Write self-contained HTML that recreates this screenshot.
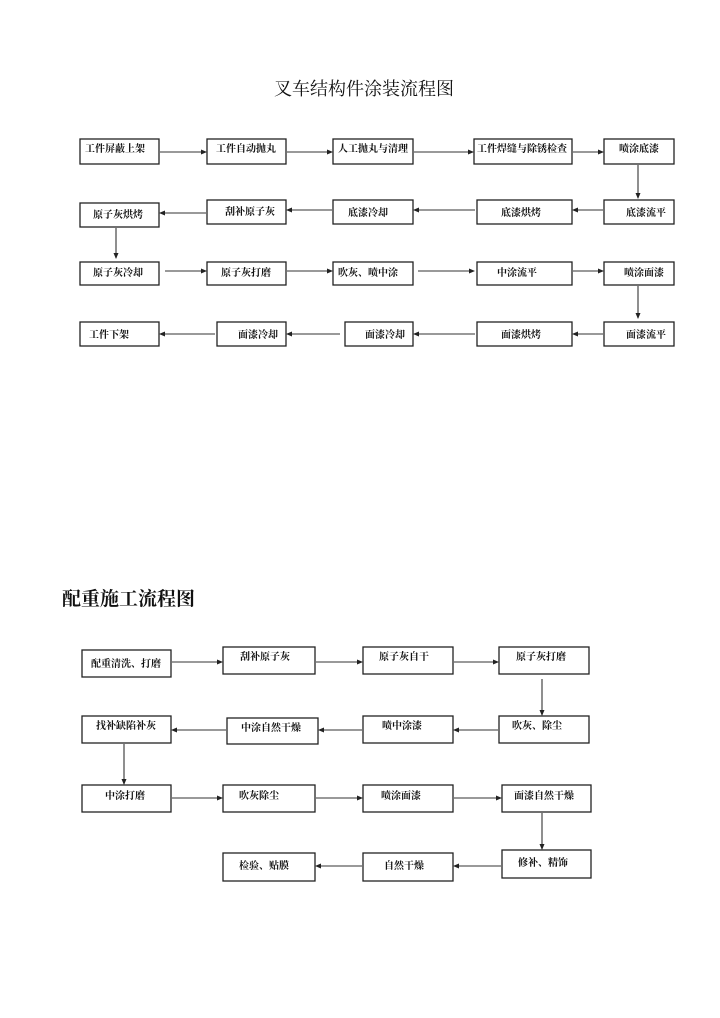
<!DOCTYPE html>
<html><head><meta charset="utf-8"><style>
html,body{margin:0;padding:0;background:#fff;}
svg{display:block}
text{font-family:"Liberation Serif","Noto Serif CJK SC",serif;fill:#111;}
.b{font-size:10px;font-weight:bold;text-anchor:middle;}
rect{fill:#fff;stroke:#222;stroke-width:1.3;}
line{stroke:#333;stroke-width:1.1;}
</style></head><body>
<svg width="720" height="1018" viewBox="0 0 720 1018" xmlns="http://www.w3.org/2000/svg">
<defs><marker id="a" markerWidth="6" markerHeight="6" refX="5" refY="3" orient="auto" markerUnits="userSpaceOnUse"><path d="M0,0.5 L6,3 L0,5.5z" fill="#222"/></marker></defs>
<text x="364" y="95" font-size="18" text-anchor="middle">叉车结构件涂装流程图</text>
<text x="62" y="605" font-size="19" font-weight="bold">配重施工流程图</text>

<!-- diagram 1 -->
<g>
<rect x="80" y="139" width="79" height="25"/><text class="b" x="115" y="152">工件屏蔽上架</text>
<rect x="207" y="139" width="79" height="25"/><text class="b" x="246" y="152">工件自动抛丸</text>
<rect x="333" y="139" width="80" height="25"/><text class="b" x="373" y="152">人工抛丸与清理</text>
<rect x="474" y="139" width="98" height="25"/><text class="b" x="522" y="152">工件焊缝与除锈检查</text>
<rect x="604" y="139" width="70" height="25"/><text class="b" x="639" y="152">喷涂底漆</text>
<line x1="160" y1="152" x2="206" y2="152" marker-end="url(#a)"/>
<line x1="287" y1="152" x2="332" y2="152" marker-end="url(#a)"/>
<line x1="414" y1="152" x2="473" y2="152" marker-end="url(#a)"/>
<line x1="573" y1="152" x2="603" y2="152" marker-end="url(#a)"/>
<line x1="638" y1="165" x2="638" y2="198" marker-end="url(#a)"/>

<rect x="80" y="203" width="79" height="24"/><text class="b" x="118" y="218">原子灰烘烤</text>
<rect x="207" y="200" width="79" height="24"/><text class="b" x="250" y="215">刮补原子灰</text>
<rect x="333" y="200" width="80" height="24"/><text class="b" x="368" y="216">底漆冷却</text>
<rect x="477" y="200" width="95" height="24"/><text class="b" x="521" y="216">底漆烘烤</text>
<rect x="604" y="200" width="70" height="24"/><text class="b" x="646" y="216">底漆流平</text>
<line x1="603" y1="210" x2="573" y2="210" marker-end="url(#a)"/>
<line x1="475" y1="210" x2="414" y2="210" marker-end="url(#a)"/>
<line x1="332" y1="210" x2="287" y2="210" marker-end="url(#a)"/>
<line x1="206" y1="213" x2="160" y2="213" marker-end="url(#a)"/>
<line x1="116" y1="228" x2="116" y2="258" marker-end="url(#a)"/>

<rect x="80" y="262" width="79" height="23"/><text class="b" x="118" y="276">原子灰冷却</text>
<rect x="207" y="262" width="79" height="23"/><text class="b" x="246" y="276">原子灰打磨</text>
<rect x="333" y="262" width="80" height="23"/><text class="b" x="368" y="276">吹灰、喷中涂</text>
<rect x="477" y="262" width="95" height="23"/><text class="b" x="517" y="276">中涂流平</text>
<rect x="604" y="262" width="70" height="23"/><text class="b" x="644" y="276">喷涂面漆</text>
<line x1="165" y1="271" x2="206" y2="271" marker-end="url(#a)"/>
<line x1="287" y1="271" x2="332" y2="271" marker-end="url(#a)"/>
<line x1="418" y1="271" x2="474" y2="271" marker-end="url(#a)"/>
<line x1="573" y1="271" x2="603" y2="271" marker-end="url(#a)"/>
<line x1="638" y1="286" x2="638" y2="318" marker-end="url(#a)"/>

<rect x="80" y="322" width="79" height="24"/><text class="b" x="109" y="338">工件下架</text>
<rect x="217" y="322" width="69" height="24"/><text class="b" x="258" y="338">面漆冷却</text>
<rect x="345" y="322" width="68" height="24"/><text class="b" x="385" y="338">面漆冷却</text>
<rect x="477" y="322" width="95" height="24"/><text class="b" x="521" y="338">面漆烘烤</text>
<rect x="604" y="322" width="70" height="24"/><text class="b" x="646" y="338">面漆流平</text>
<line x1="603" y1="334" x2="573" y2="334" marker-end="url(#a)"/>
<line x1="475" y1="334" x2="414" y2="334" marker-end="url(#a)"/>
<line x1="340" y1="334" x2="287" y2="334" marker-end="url(#a)"/>
<line x1="215" y1="334" x2="160" y2="334" marker-end="url(#a)"/>
</g>

<!-- diagram 2 -->
<g>
<rect x="82" y="650" width="89" height="27"/><text class="b" x="126" y="667">配重清洗、打磨</text>
<rect x="223" y="647" width="92" height="27"/><text class="b" x="265" y="660">刮补原子灰</text>
<rect x="363" y="647" width="90" height="27"/><text class="b" x="404" y="660">原子灰自干</text>
<rect x="499" y="647" width="90" height="27"/><text class="b" x="541" y="660">原子灰打磨</text>
<line x1="172" y1="662" x2="222" y2="662" marker-end="url(#a)"/>
<line x1="316" y1="662" x2="362" y2="662" marker-end="url(#a)"/>
<line x1="454" y1="662" x2="498" y2="662" marker-end="url(#a)"/>
<line x1="542" y1="679" x2="542" y2="715" marker-end="url(#a)"/>

<rect x="82" y="716" width="89" height="27"/><text class="b" x="126" y="729">找补缺陷补灰</text>
<rect x="227" y="718" width="91" height="26"/><text class="b" x="271" y="731">中涂自然干燥</text>
<rect x="363" y="716" width="90" height="27"/><text class="b" x="402" y="729">喷中涂漆</text>
<rect x="499" y="716" width="90" height="27"/><text class="b" x="537" y="729">吹灰、除尘</text>
<line x1="498" y1="730" x2="454" y2="730" marker-end="url(#a)"/>
<line x1="362" y1="730" x2="319" y2="730" marker-end="url(#a)"/>
<line x1="226" y1="730" x2="172" y2="730" marker-end="url(#a)"/>
<line x1="124" y1="744" x2="124" y2="784" marker-end="url(#a)"/>

<rect x="82" y="785" width="89" height="27"/><text class="b" x="125" y="799">中涂打磨</text>
<rect x="223" y="785" width="92" height="27"/><text class="b" x="259" y="799">吹灰除尘</text>
<rect x="363" y="785" width="90" height="27"/><text class="b" x="401" y="799">喷涂面漆</text>
<rect x="502" y="785" width="89" height="27"/><text class="b" x="544" y="799">面漆自然干燥</text>
<line x1="172" y1="798" x2="222" y2="798" marker-end="url(#a)"/>
<line x1="316" y1="798" x2="362" y2="798" marker-end="url(#a)"/>
<line x1="454" y1="798" x2="501" y2="798" marker-end="url(#a)"/>
<line x1="542" y1="813" x2="542" y2="849" marker-end="url(#a)"/>

<rect x="223" y="853" width="92" height="28"/><text class="b" x="264" y="869">检验、贴膜</text>
<rect x="363" y="853" width="90" height="28"/><text class="b" x="404" y="869">自然干燥</text>
<rect x="502" y="850" width="89" height="28"/><text class="b" x="543" y="866">修补、精饰</text>
<line x1="501" y1="866" x2="454" y2="866" marker-end="url(#a)"/>
<line x1="362" y1="866" x2="316" y2="866" marker-end="url(#a)"/>
</g>
</svg>
</body></html>
